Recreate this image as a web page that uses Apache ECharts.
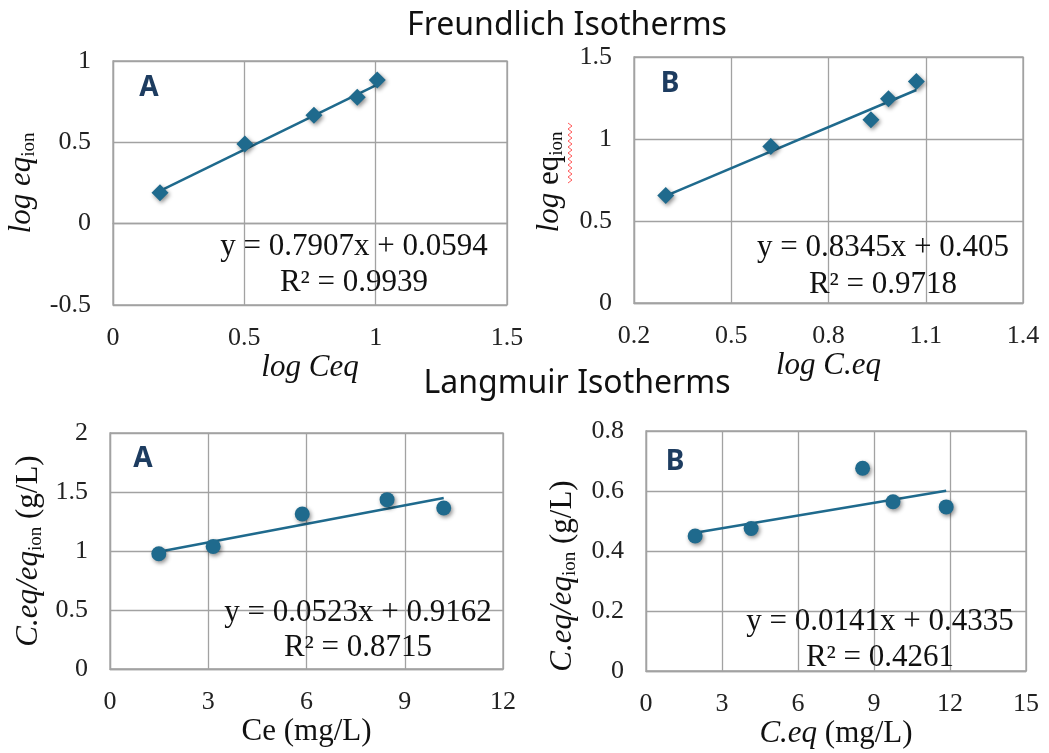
<!DOCTYPE html>
<html>
<head>
<meta charset="utf-8">
<script src="https://cdn.jsdelivr.net/npm/echarts@6/dist/echarts.min.js"></script>
<style>
html,body{margin:0;padding:0;background:#fff;}
#chart{width:1049px;height:753px;}
</style>
</head>
<body>
<div id="chart"></div>
<script>
// ---- data ----
const freundlichA_x = [0.179, 0.502, 0.765, 0.930, 1.006];
const freundlichA_y = [0.190, 0.490, 0.666, 0.777, 0.883];
const freundlichB_x = [0.298, 0.622, 0.931, 0.985, 1.071];
const freundlichB_y = [0.656, 0.955, 1.118, 1.246, 1.351];
const langmuirA_x = [1.49, 3.15, 5.87, 8.46, 10.19];
const langmuirA_y = [0.977, 1.039, 1.314, 1.435, 1.364];
const langmuirB_x = [1.94, 4.15, 8.55, 9.75, 11.85];
const langmuirB_y = [0.450, 0.475, 0.676, 0.564, 0.547];

const slopes = [0.7907, 0.8345, 0.0523, 0.0141];
const intercepts = [0.0594, 0.405, 0.9162, 0.4335];
const eqTexts = ['y = 0.7907x + 0.0594', 'y = 0.8345x + 0.405', 'y = 0.0523x + 0.9162', 'y = 0.0141x + 0.4335'];
const r2Texts = ['R² = 0.9939', 'R² = 0.9718', 'R² = 0.8715', 'R² = 0.4261'];
const panelLetters = ['A', 'B', 'A', 'B'];
const sectionTitles = ['Freundlich Isotherms', 'Langmuir Isotherms'];

const xMin = [0, 0.2, 0, 0];
const xMax = [1.5, 1.4, 12, 15];
const xStep = [0.5, 0.3, 3, 3];
const yMin = [-0.5, 0, 0, 0];
const yMax = [1, 1.5, 2, 0.8];
const yStep = [0.5, 0.5, 0.5, 0.2];

// ---- layout ----
const grids = [
  {left: 113, top: 61, width: 394, height: 244},
  {left: 634, top: 57, width: 389, height: 246},
  {left: 110, top: 433, width: 393, height: 236},
  {left: 646, top: 431, width: 380, height: 240}
];
const COLOR = '#1f6a8d';
const GRIDC = '#a2a2a2';
const SERIF = '"Liberation Serif", "Times New Roman", serif';
const SANS = '"Noto Sans", "Open Sans", sans-serif';

const pts = [
  freundlichA_x.map((x, i) => [x, freundlichA_y[i]]),
  freundlichB_x.map((x, i) => [x, freundlichB_y[i]]),
  langmuirA_x.map((x, i) => [x, langmuirA_y[i]]),
  langmuirB_x.map((x, i) => [x, langmuirB_y[i]])
];
const xsets = [freundlichA_x, freundlichB_x, langmuirA_x, langmuirB_x];
function trend(k) {
  const lo = Math.min(...xsets[k]), hi = Math.max(...xsets[k]);
  return [[lo, slopes[k] * lo + intercepts[k]], [hi, slopes[k] * hi + intercepts[k]]];
}

const richStyles = {
  i: {fontFamily: SERIF, fontStyle: 'italic', fontSize: 31, color: '#111', lineHeight: 34},
  n: {fontFamily: SERIF, fontSize: 31, color: '#111', lineHeight: 34},
  s: {fontFamily: SERIF, fontSize: 19, color: '#111', lineHeight: 19, verticalAlign: 'bottom'}
};
const xNames = ['{i|log Ceq}', '{i|log C.eq}', '{n|Ce (mg/L)}', '{i|C.eq}{n| (mg/L)}'];
const yNames = ['{i|log eq}{s|ion}', '{i|log }{n|eq}{s|ion}', '{i|C.eq/eq}{s|ion}{n| (g/L)}', '{i|C.eq/eq}{s|ion}{n| (g/L)}'];
const yNameGap = [74, 67, 64, 66];
const yNamePad = [[0, 0, 0, 0], [0, 4, 0, 0], [0, 0, 0, 0], [0, 50, 0, 0]];

const xAxis = [], yAxis = [], series = [];
for (let k = 0; k < 4; k++) {
  xAxis.push({
    type: 'value', gridIndex: k, min: xMin[k], max: xMax[k], interval: xStep[k],
    axisLine: {show: true, lineStyle: {color: GRIDC, width: 1.3}},
    axisTick: {show: false},
    axisLabel: {fontFamily: SERIF, fontSize: 26, color: '#222', margin: 20,
      formatter: v => String(Math.round(v * 10) / 10)},
    splitLine: {show: true, lineStyle: {color: GRIDC, width: 1.3}},
    name: xNames[k], nameLocation: 'middle', nameGap: 43,
    nameTextStyle: {rich: richStyles}
  });
  yAxis.push({
    type: 'value', gridIndex: k, min: yMin[k], max: yMax[k], interval: yStep[k],
    axisLine: {show: true, lineStyle: {color: GRIDC, width: 1.3}},
    axisTick: {show: false},
    axisLabel: {fontFamily: SERIF, fontSize: 26, color: '#222', margin: 22,
      formatter: v => String(Math.round(v * 10) / 10)},
    splitLine: {show: true, lineStyle: {color: GRIDC, width: 1.3}},
    name: yNames[k], nameLocation: 'middle', nameGap: yNameGap[k], nameRotate: 90,
    nameTextStyle: {rich: richStyles, padding: yNamePad[k]}
  });
  series.push({
    type: 'line', xAxisIndex: k, yAxisIndex: k, data: trend(k), showSymbol: false,
    lineStyle: {color: COLOR, width: 2.5}, silent: true, z: 2
  });
  series.push({
    type: 'scatter', xAxisIndex: k, yAxisIndex: k, data: pts[k],
    symbol: k < 2 ? 'diamond' : 'circle', symbolSize: k < 2 ? [17, 17] : 15,
    itemStyle: {color: COLOR, opacity: 1, shadowBlur: 4, shadowColor: 'rgba(0,0,0,0.45)', shadowOffsetX: 1.5, shadowOffsetY: 2},
    z: 3
  });
}

// annotation positions (pixel)
const eqPos = [[354, 247, 283], [883, 248, 285], [358, 613, 648], [880, 622, 658]];
const letterPos = [[149, 88], [670, 84], [143, 459], [675, 462]];
const graphic = [];
for (let k = 0; k < 4; k++) {
  graphic.push({type: 'text', x: eqPos[k][0], y: eqPos[k][1], z: 10,
    style: {text: eqTexts[k], font: '31px ' + SERIF, fill: '#111', textAlign: 'center', textVerticalAlign: 'middle'}});
  graphic.push({type: 'text', x: eqPos[k][0], y: eqPos[k][2], z: 10,
    style: {text: r2Texts[k], font: '31px ' + SERIF, fill: '#111', textAlign: 'center', textVerticalAlign: 'middle'}});
  graphic.push({type: 'text', x: letterPos[k][0], y: letterPos[k][1], z: 10,
    style: {text: panelLetters[k], font: 'bold 28px ' + SANS, fill: '#1d3c60', textAlign: 'center', textVerticalAlign: 'middle'}});
}
// spell-check squiggle under "eqion" in panel B's y-axis title
const squiggle = [];
for (let i = 0; i <= 20; i++) squiggle.push([i % 2 ? 572 : 568, 123 + i * 3]);
graphic.push({type: 'polyline', z: 11, shape: {points: squiggle},
  style: {stroke: '#ff5a5a', lineWidth: 1, fill: null}});

const option = {
  backgroundColor: '#ffffff',
  animation: false,
  title: [
    {text: sectionTitles[0], left: 562, top: 5, textAlign: 'center',
      textStyle: {fontFamily: SANS, fontWeight: 'normal', fontSize: 32, color: '#111'}},
    {text: sectionTitles[1], left: 572, top: 363, textAlign: 'center',
      textStyle: {fontFamily: SANS, fontWeight: 'normal', fontSize: 32, color: '#111'}}
  ],
  grid: grids.map(g => Object.assign({show: true, borderColor: GRIDC, borderWidth: 1.3, containLabel: false}, g)),
  xAxis, yAxis, series, graphic
};
const chart = echarts.init(document.getElementById('chart'), null, {renderer: 'canvas'});
chart.setOption(option);
</script>
</body>
</html>
